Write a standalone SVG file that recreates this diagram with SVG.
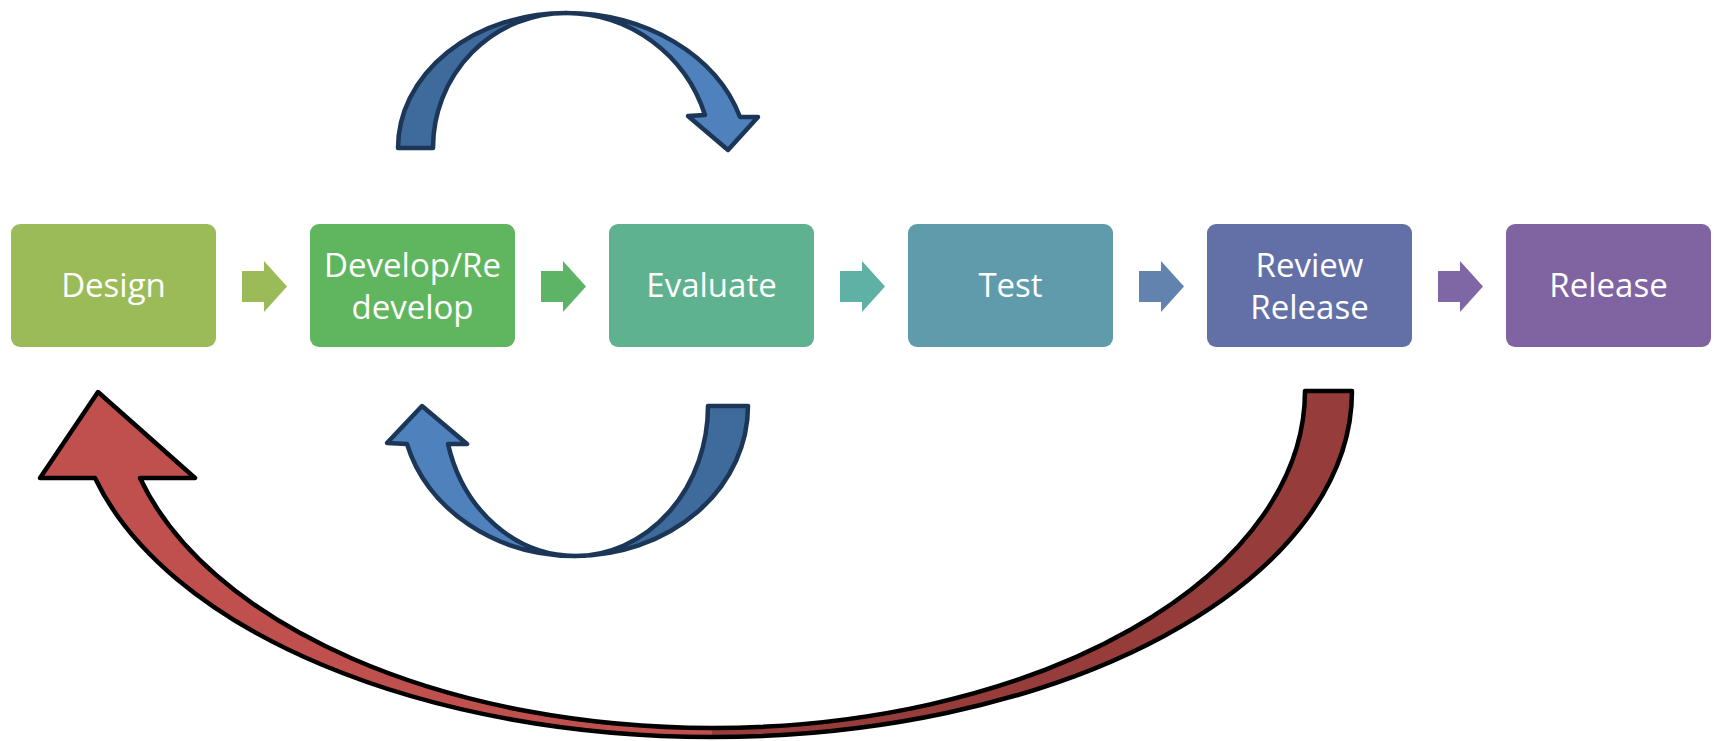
<svg xmlns="http://www.w3.org/2000/svg" width="1717" height="741" viewBox="0 0 1717 741">
<style>
.box{stroke:none}
.lbl{font-family:"Open Sans","Liberation Sans",sans-serif;font-size:33px;fill:#ffffff;text-anchor:middle}
.blue{stroke:#1c3657;stroke-width:4.5;stroke-linejoin:round}
.red{stroke:#000000;stroke-width:4.5;stroke-linejoin:round;fill:none}
</style>
<rect width="1717" height="741" fill="#ffffff"/>
<g id="connectors">
<path d="M242,271 H264 V261 L287,286.5 L264,312 V302 H242 Z" fill="#9bbb59"/>
<path d="M541,271 H563 V261 L586,286.5 L563,312 V302 H541 Z" fill="#5db466"/>
<path d="M840,271 H862 V261 L885,286.5 L862,312 V302 H840 Z" fill="#5eb1a4"/>
<path d="M1139,271 H1161 V261 L1184,286.5 L1161,312 V302 H1139 Z" fill="#6283ad"/>
<path d="M1438,271 H1460 V261 L1483,286.5 L1460,312 V302 H1438 Z" fill="#7f66a5"/>
<g id="loop-top">
<path class="blue" d="M398,148 A168,135 0 0 1 566,13 A133,135 0 0 0 433,148 Z" fill="#3f6a9c"/>
<path class="blue" d="M566,13 A182,147 0 0 1 740,117 L758,117 L728,150 L688,116 L705,115 A146,147 0 0 0 566,13 Z" fill="#4f81bd"/>
</g>
<g id="loop-bottom">
<path class="blue" d="M748,406 A173,150 0 0 1 575,556 A133,150 0 0 0 708,406 Z" fill="#3f6a9c"/>
<path class="blue" d="M575,556 A174,150 0 0 1 407,444 L387,443 L422,406 L467,444 L448,444 A131.3,150 0 0 0 575,556 Z" fill="#4f81bd"/>
</g>
<g id="loop-red">
<path d="M1352,391 A640,346 0 0 1 712,737 L712,728 A593,337 0 0 0 1305,391 Z" fill="#963c3a"/>
<path d="M712,737 A637,346 0 0 1 95,478 L40,478 L98,392 L195,478 L140,478 A592,337 0 0 0 712,728 Z" fill="#c0504d"/>
<path class="red" d="M712,728 A593,337 0 0 0 1305,391 L1352,391 A640,346 0 0 1 712,737"/>
<path class="red" d="M712,737 A637,346 0 0 1 95,478 L40,478 L98,392 L195,478 L140,478 A592,337 0 0 0 712,728"/>
</g>
</g>
<g id="design"><rect class="box" x="11" y="224" width="205" height="123" rx="9" fill="#9bbb59"/><text class="lbl" x="113.5" y="297">Design</text></g>
<g id="develop"><rect class="box" x="310" y="224" width="205" height="123" rx="9" fill="#60b65e"/><text class="lbl" x="412.5" y="277">Develop/Re</text><text class="lbl" x="412.5" y="319">develop</text></g>
<g id="evaluate"><rect class="box" x="609" y="224" width="205" height="123" rx="9" fill="#5eb28f"/><text class="lbl" x="711.5" y="297">Evaluate</text></g>
<g id="test"><rect class="box" x="908" y="224" width="205" height="123" rx="9" fill="#609bac"/><text class="lbl" x="1010.5" y="297">Test</text></g>
<g id="review"><rect class="box" x="1207" y="224" width="205" height="123" rx="9" fill="#6370a8"/><text class="lbl" x="1309.5" y="277">Review</text><text class="lbl" x="1309.5" y="319">Release</text></g>
<g id="release"><rect class="box" x="1506" y="224" width="205" height="123" rx="9" fill="#8064a2"/><text class="lbl" x="1608.5" y="297">Release</text></g>
</svg>
